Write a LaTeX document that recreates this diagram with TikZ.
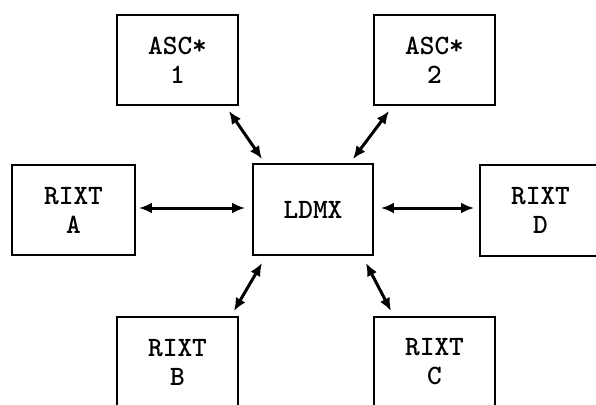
\documentclass[tikz,border=0pt]{standalone}
\usepackage{fontspec}
\usetikzlibrary{arrows.meta}
\begin{document}
\begin{tikzpicture}[x=1pt,y=-1pt,
  box/.style={draw, line width=1.9pt, rectangle, minimum width=121pt, minimum height=90pt,
    inner sep=0pt, align=center, font=\ttfamily\bfseries\fontsize{28}{29}\selectfont},
  link/.style={line width=3pt, {Latex[length=13pt,width=11pt]}-{Latex[length=13pt,width=11pt]}}]
\useasboundingbox (0,0) rectangle (596,404);
\clip (0,0) rectangle (596,404);
\node[box] (asc1) at (177.5,60) {ASC*\\1};
\node[box] (asc2) at (434.5,60) {ASC*\\2};
\node[box, minimum width=123pt] (ra) at (73.5,210) {RIXT\\A};
\node[box, minimum width=120pt, minimum height=91pt] (ldmx) at (313,209.5) {LDMX};
\node[box, minimum height=91pt] (rd) at (540.5,210.5) {RIXT\\D};
\node[box] (rb) at (177.5,362) {RIXT\\B};
\node[box] (rc) at (434.5,362) {RIXT\\C};
\draw[link] ([xshift=-10pt,yshift=-5pt]asc1.south east) -- ([xshift=10pt,yshift=4pt]ldmx.north west);
\draw[link] ([xshift=16pt,yshift=-5pt]asc2.south west) -- ([xshift=-21pt,yshift=4pt]ldmx.north east);
\draw[link] ([xshift=3pt,yshift=2pt]ra.east) -- ([xshift=-7pt,yshift=1.5pt]ldmx.west);
\draw[link] ([xshift=7pt,yshift=1.5pt]ldmx.east) -- ([xshift=-5pt,yshift=2.5pt]rd.west);
\draw[link] ([xshift=10pt,yshift=-7pt]ldmx.south west) -- ([xshift=-5pt,yshift=5pt]rb.north east);
\draw[link] ([xshift=-8pt,yshift=-7pt]ldmx.south east) -- ([xshift=18pt,yshift=5pt]rc.north west);
\end{tikzpicture}
\end{document}
